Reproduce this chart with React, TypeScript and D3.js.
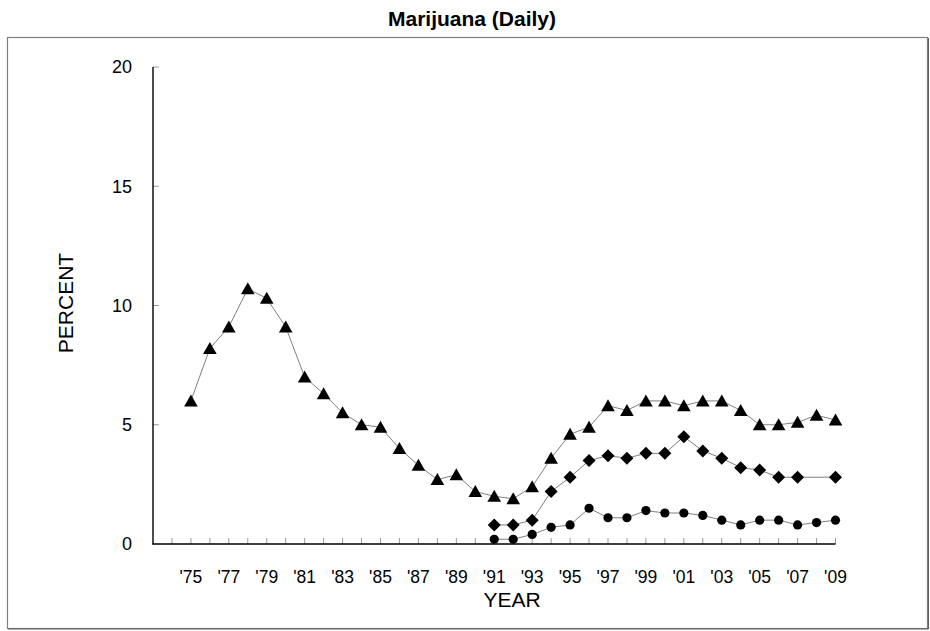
import React from "react";
import * as d3 from "d3";

const years12: number[] = [1975,1976,1977,1978,1979,1980,1981,1982,1983,1984,1985,1986,1987,1988,1989,1990,1991,1992,1993,1994,1995,1996,1997,1998,1999,2000,2001,2002,2003,2004,2005,2006,2007,2008,2009];
const grade12: number[] = [6.0,8.2,9.1,10.7,10.3,9.1,7.0,6.3,5.5,5.0,4.9,4.0,3.3,2.7,2.9,2.2,2.0,1.9,2.4,3.6,4.6,4.9,5.8,5.6,6.0,6.0,5.8,6.0,6.0,5.6,5.0,5.0,5.1,5.4,5.2];

const years10: number[] = [1991,1992,1993,1994,1995,1996,1997,1998,1999,2000,2001,2002,2003,2004,2005,2006,2007,2009];
const grade10: number[] = [0.8,0.8,1.0,2.2,2.8,3.5,3.7,3.6,3.8,3.8,4.5,3.9,3.6,3.2,3.1,2.8,2.8,2.8];

const years8: number[] = [1991,1992,1993,1994,1995,1996,1997,1998,1999,2000,2001,2002,2003,2004,2005,2006,2007,2008,2009];
const grade8: number[] = [0.2,0.2,0.4,0.7,0.8,1.5,1.1,1.1,1.4,1.3,1.3,1.2,1.0,0.8,1.0,1.0,0.8,0.9,1.0];

const yTicks: number[] = [0, 5, 10, 15, 20];
const xTickYears: number[] = d3.range(1974, 2010);
const xLabelYears: number[] = d3.range(1975, 2010, 2);

const FONT = "'Liberation Sans', Arial, sans-serif";

export default function App() {
  const x = d3.scaleLinear().domain([1973, 2009]).range([153, 835.5]);
  const y = d3.scaleLinear().domain([0, 20]).range([544, 67]);
  const line = d3
    .line<[number, number]>()
    .x((d) => x(d[0]))
    .y((d) => y(d[1]));

  const s12: [number, number][] = years12.map((yr, i) => [yr, grade12[i]]);
  const s10: [number, number][] = years10.map((yr, i) => [yr, grade10[i]]);
  const s8: [number, number][] = years8.map((yr, i) => [yr, grade8[i]]);

  const tri = (cx: number, cy: number) =>
    `M${cx},${cy - 6.5}L${cx + 6.8},${cy + 5.5}L${cx - 6.8},${cy + 5.5}Z`;
  const dia = (cx: number, cy: number) =>
    `M${cx},${cy - 6.5}L${cx + 6.5},${cy}L${cx},${cy + 6.5}L${cx - 6.5},${cy}Z`;

  const fmtYear = (yr: number) => "'" + String(yr % 100).padStart(2, "0");

  return (
    <svg
      width={930}
      height={631}
      style={{ position: "absolute", left: 0, top: 0, background: "#fff" }}
      fontFamily={FONT}
    >
      <rect x={0} y={0} width={930} height={631} fill="#fff" />
      <rect x={7.5} y={37.5} width={920} height={591} fill="none" stroke="#808080" strokeWidth={1.2} />
      <line x1={8} x2={928.5} y1={629} y2={629} stroke="#606060" strokeWidth={1} />
      <line x1={928.5} x2={928.5} y1={38} y2={629} stroke="#606060" strokeWidth={1} />

      <text x={472} y={26} textAnchor="middle" fontSize={21} fontWeight="bold" fill="#000">
        Marijuana (Daily)
      </text>

      {/* y ticks */}
      {yTicks.filter((t) => t > 0).map((t) => (
        <line key={"yt" + t} x1={153} x2={159} y1={y(t)} y2={y(t)} stroke="#999" strokeWidth={1} />
      ))}
      {yTicks.map((t) => (
        <text key={"yl" + t} x={132} y={y(t)} dy="0.35em" textAnchor="end" fontSize={18} fill="#000">
          {t}
        </text>
      ))}

      {/* x ticks */}
      {xTickYears.map((yr) => (
        <line key={"xt" + yr} x1={x(yr)} x2={x(yr)} y1={544} y2={538} stroke="#999" strokeWidth={1} />
      ))}
      {xLabelYears.map((yr) => (
        <text key={"xl" + yr} x={x(yr)} y={583} textAnchor="middle" fontSize={17.5} fill="#000">
          {fmtYear(yr)}
        </text>
      ))}

      {/* axes */}
      <line x1={153} x2={153} y1={y(20)} y2={y(0) + 0.5} stroke="#000" strokeWidth={1.4} />
      <line x1={152.5} x2={x(2009)} y1={y(0)} y2={y(0)} stroke="#000" strokeWidth={1.4} />

      <text x={512} y={607} textAnchor="middle" fontSize={21} fill="#000">
        YEAR
      </text>
      <text
        transform={`translate(73,303) rotate(-90)`}
        textAnchor="middle"
        fontSize={21}
        fill="#000"
      >
        PERCENT
      </text>

      {/* lines */}
      <path d={line(s12) || ""} fill="none" stroke="#808080" strokeWidth={1} />
      <path d={line(s10) || ""} fill="none" stroke="#808080" strokeWidth={1} />
      <path d={line(s8) || ""} fill="none" stroke="#808080" strokeWidth={1} />

      {/* markers */}
      {s12.map((d) => (
        <path key={"m12" + d[0]} d={tri(x(d[0]), y(d[1]))} fill="#000" />
      ))}
      {s10.map((d) => (
        <path key={"m10" + d[0]} d={dia(x(d[0]), y(d[1]))} fill="#000" />
      ))}
      {s8.map((d) => (
        <circle key={"m8" + d[0]} cx={x(d[0])} cy={y(d[1])} r={4.6} fill="#000" />
      ))}
    </svg>
  );
}
